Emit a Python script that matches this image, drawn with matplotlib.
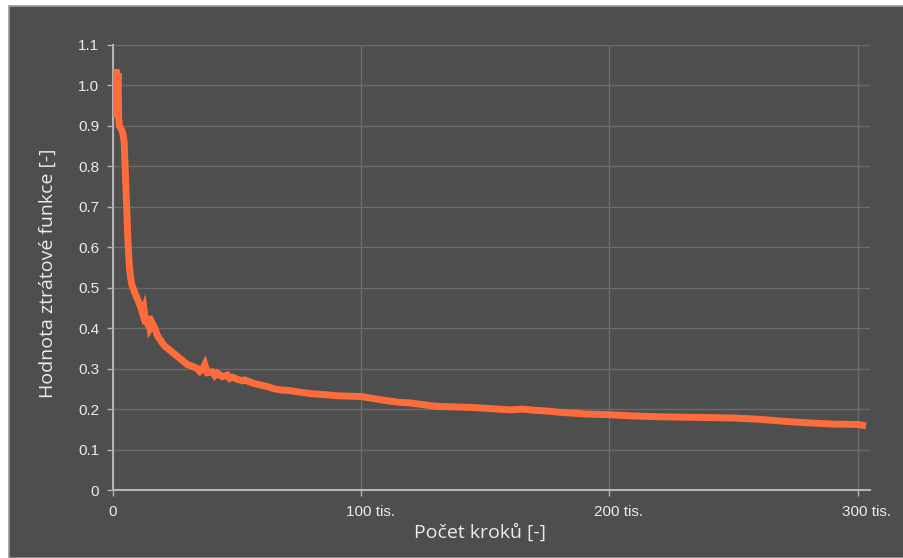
import matplotlib
matplotlib.use("Agg")
import matplotlib.pyplot as plt
from matplotlib.patches import Rectangle
from matplotlib.transforms import ScaledTranslation

"""Data read from the chart (steps in thousands)"""
steps_k = [0, 0.4, 0.8, 1.2, 1.6, 2.0, 2.3, 2.6, 3.0, 3.5, 4.0, 4.5, 5.0, 5.5,
           6.0, 6.5, 7.0, 7.5, 8.0, 9.0, 10.0, 11.0, 12.0, 12.5, 13.0, 14.0,
           14.5, 15.0, 16.0, 17.0, 18.0, 19.0, 20.0, 21.0, 22.0, 24.0, 26.0,
           28.0, 30.0, 32.0, 34.0, 35.0, 36.0, 37.0, 38.0, 40.0, 41.0, 42.0,
           44.0, 46.0, 47.0, 48.0, 50.0, 52.0, 53.0, 56.0, 59.0, 62.0, 65.0,
           68.0, 71.0, 75.0, 80.0, 85.0, 90.0, 95.0, 100.0, 105.0, 110.0,
           115.0, 120.0, 125.0, 130.0, 135.0, 140.0, 145.0, 150.0, 155.0,
           160.0, 165.0, 170.0, 175.0, 180.0, 185.0, 190.0, 195.0, 200.0,
           210.0, 220.0, 230.0, 240.0, 250.0, 260.0, 270.0, 280.0, 290.0,
           300.0, 302.0]
loss = [0.93, 1.04, 0.94, 1.04, 0.93, 1.03, 0.92, 0.90, 0.895, 0.89, 0.88,
        0.86, 0.78, 0.70, 0.62, 0.56, 0.53, 0.51, 0.50, 0.485, 0.47, 0.455,
        0.435, 0.445, 0.42, 0.41, 0.43, 0.40, 0.41, 0.398, 0.38, 0.372, 0.362,
        0.355, 0.35, 0.34, 0.33, 0.32, 0.31, 0.306, 0.30, 0.293, 0.298, 0.31,
        0.29, 0.292, 0.283, 0.289, 0.28, 0.284, 0.276, 0.279, 0.274, 0.27,
        0.272, 0.265, 0.26, 0.256, 0.25, 0.247, 0.246, 0.242, 0.238, 0.236,
        0.233, 0.232, 0.231, 0.226, 0.221, 0.217, 0.215, 0.211, 0.207, 0.206,
        0.205, 0.204, 0.202, 0.200, 0.198, 0.200, 0.197, 0.195, 0.192, 0.190,
        0.188, 0.187, 0.186, 0.183, 0.181, 0.180, 0.179, 0.178, 0.175, 0.170,
        0.166, 0.163, 0.162, 0.160]

x_ticks_k = [0, 100, 200, 300]
x_tick_labels = ["0", "100 tis.", "200 tis.", "300 tis."]
y_ticks = [0, 0.1, 0.2, 0.3, 0.4, 0.5, 0.6, 0.7, 0.8, 0.9, 1.0, 1.1]
y_tick_labels = ["0", "0.1", "0.2", "0.3", "0.4", "0.5", "0.6", "0.7", "0.8",
                 "0.9", "1.0", "1.1"]

"""Colours"""
BG = "#4e4e4e"
LINE = "#ff6c3c"
AXIS = "#b4b4b4"
GRID = "#6c6c6c"
TEXT = "#ececec"

fig = plt.figure(figsize=(9.04, 5.58), dpi=100, facecolor="white")
fig.patches.append(Rectangle((8.5 / 904, 0), 1, 1 - 5.5 / 558,
                             transform=fig.transFigure, facecolor=BG,
                             edgecolor="#9a9a9a", linewidth=1.2, zorder=-5))

ax = fig.add_axes([113 / 904, 1 - 490 / 558, (870 - 113) / 904, (490 - 45) / 558])
ax.set_zorder(1)
ax.patch.set_alpha(0)

ax.plot([s * 1000 for s in steps_k], loss, color=LINE, linewidth=5,
        solid_joinstyle="miter", zorder=3)

ax.set_xlim(0, 305000)
ax.set_ylim(0, 1.1)

ax.set_yticks(y_ticks)
ax.set_yticklabels(y_tick_labels)
ax.set_xticks([t * 1000 for t in x_ticks_k])
ax.set_xticklabels(x_tick_labels)

ax.grid(True, color=GRID, linewidth=1.0)
ax.set_axisbelow(True)

for side in ["top", "right"]:
    ax.spines[side].set_visible(False)
for side in ["left", "bottom"]:
    ax.spines[side].set_color(AXIS)
    ax.spines[side].set_linewidth(1.5)

ax.tick_params(axis="both", colors=AXIS, labelcolor=TEXT, labelsize=11,
               length=4, width=1)
ax.tick_params(axis="x", pad=7)
ax.tick_params(axis="y", pad=6)

for lab in ax.get_yticklabels() + ax.get_xticklabels():
    lab.set_fontfamily("Liberation Sans")

# x labels: number part sits centred on the tick
for lab, txt in zip(ax.get_xticklabels(), x_tick_labels):
    n = len(txt.split(" ")[0])
    shift_px = n * 4.25 + (n - 1) * 1.4
    lab.set_horizontalalignment("left")
    lab.set_transform(lab.get_transform() +
                      ScaledTranslation(-shift_px / 100, 0, fig.dpi_scale_trans))

ax.set_xlabel("Počet kroků [-]", color=TEXT, fontsize=14, family="Open Sans")
ax.set_ylabel("Hodnota ztrátové funkce [-]", color=TEXT, fontsize=14,
              family="Open Sans")
ax.xaxis.set_label_coords(0.485, -0.075)
ax.yaxis.set_label_coords(-0.074, 0.4865)

fig.savefig("out.png", dpi=100, facecolor="white")
